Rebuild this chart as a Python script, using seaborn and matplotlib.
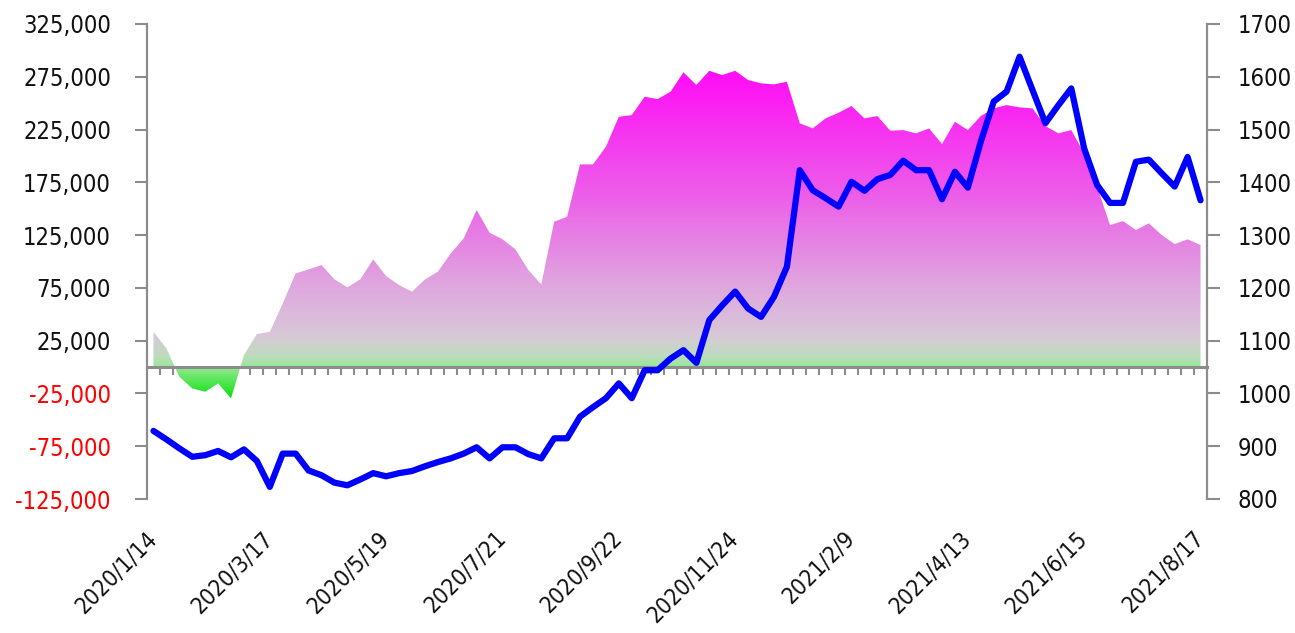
import numpy as np
import matplotlib
matplotlib.use("Agg")
import matplotlib.pyplot as plt
import seaborn as sns
from matplotlib.colors import LinearSegmentedColormap, Normalize
from matplotlib.path import Path
from matplotlib import font_manager as fm

# ---------------- data ----------------
dates = [
    "2020/1/14", "2020/1/21", "2020/1/28", "2020/2/4", "2020/2/11", "2020/2/18", "2020/2/25", "2020/3/3", "2020/3/10",
    "2020/3/17", "2020/3/24", "2020/3/31", "2020/4/7", "2020/4/14", "2020/4/21", "2020/4/28", "2020/5/5", "2020/5/12",
    "2020/5/19", "2020/5/26", "2020/6/2", "2020/6/9", "2020/6/16", "2020/6/23", "2020/6/30", "2020/7/7", "2020/7/14",
    "2020/7/21", "2020/7/28", "2020/8/4", "2020/8/11", "2020/8/18", "2020/8/25", "2020/9/1", "2020/9/8", "2020/9/15",
    "2020/9/22", "2020/9/29", "2020/10/6", "2020/10/13", "2020/10/20", "2020/10/27", "2020/11/3", "2020/11/10", "2020/11/17",
    "2020/11/24", "2020/12/1", "2020/12/8", "2020/12/15", "2020/12/22", "2021/1/5", "2021/1/12", "2021/1/19", "2021/1/26",
    "2021/2/9", "2021/2/16", "2021/2/23", "2021/3/2", "2021/3/9", "2021/3/16", "2021/3/23", "2021/3/30", "2021/4/6",
    "2021/4/13", "2021/4/20", "2021/4/27", "2021/5/4", "2021/5/11", "2021/5/18", "2021/5/25", "2021/6/1", "2021/6/8",
    "2021/6/15", "2021/6/22", "2021/6/29", "2021/7/6", "2021/7/13", "2021/7/20", "2021/7/27", "2021/8/3", "2021/8/10",
    "2021/8/17",
]

net_position = [
    33400, 17700, -9200, -20200, -23400, -15500, -29700, 11400, 31300,
    33400, 60300, 88700, 92500, 96600, 83100, 75500, 83100, 102000,
    86200, 77700, 71400, 83000, 90300, 107700, 121900, 148700, 127300,
    121000, 111500, 91900, 78300, 137700, 142400, 192000, 192000, 208700,
    237100, 238700, 256100, 253900, 260800, 279200, 267200, 280700, 276600,
    280700, 271900, 268800, 267800, 270300, 230900, 226100, 235600, 240900,
    247300, 235600, 237800, 223900, 224500, 221400, 226100, 211300, 232400,
    224500, 237800, 245100, 248200, 246000, 245100, 228300, 221400, 224500,
    202400, 170800, 134500, 138300, 129800, 136100, 125100, 116500, 121000,
    115600,
]

price = [
    929, 913, 896, 880, 883, 891, 879, 894, 872,
    823, 886, 886, 854, 845, 831, 826, 837, 849,
    843, 849, 853, 862, 870, 877, 886, 898, 877,
    898, 898, 885, 877, 915, 915, 956, 974, 991,
    1019, 991, 1044, 1044, 1066, 1082, 1058, 1139, 1167,
    1193, 1161, 1145, 1183, 1240, 1423, 1385, 1370, 1354,
    1401, 1384, 1406, 1414, 1441, 1423, 1423, 1368, 1420,
    1390, 1477, 1553, 1572, 1638, 1575, 1512, 1546, 1578,
    1464, 1395, 1361, 1361, 1439, 1443, 1417, 1392, 1448,
    1366,
]

left_ticks = [-125000, -75000, -25000, 25000, 75000, 125000, 175000, 225000, 275000, 325000]
right_ticks = [800, 900, 1000, 1100, 1200, 1300, 1400, 1500, 1600, 1700]
label_step = 9

# gradient colour stops (value, colour)
grad_stops = [
    (-30000, "#10DD10"),
    (-15000, "#50E650"),
    (0, "#98E898"),
    (10000, "#BEDCBE"),
    (30000, "#D8C8D8"),
    (80000, "#E0A4DF"),
    (160000, "#EC60E9"),
    (275000, "#FF10F6"),
]

# ---------------- style ----------------
sns.set_theme(style="white")
cond_file = fm.findfont(fm.FontProperties(family="DejaVu Sans", stretch="condensed"))
if "Condensed" in cond_file:
    plt.rcParams["font.stretch"] = "condensed"
    fsize = 17
    xsize = 16.5
else:
    fsize = 15.5
    xsize = 15
plt.rcParams["font.family"] = ["DejaVu Sans"]

gray = "#8C8C8C"
n = len(dates)
x = np.arange(n)

fig = plt.figure(figsize=(12.95, 6.33), dpi=100)
ax = fig.add_axes([147 / 1295, 1 - 499 / 633, 1060 / 1295, 475 / 633])

# gradient-filled area
vmin, vmax = grad_stops[0][0], grad_stops[-1][0]
cmap = LinearSegmentedColormap.from_list(
    "net", [((v - vmin) / (vmax - vmin), c) for v, c in grad_stops]
)
grad = np.linspace(left_ticks[0], left_ticks[-1], 900).reshape(-1, 1)
im = ax.imshow(
    grad, extent=[-0.5, n - 0.5, left_ticks[0], left_ticks[-1]], origin="lower",
    aspect="auto", cmap=cmap, norm=Normalize(vmin, vmax), zorder=1, interpolation="bilinear",
)
poly = ax.fill_between(x, net_position, 0, facecolor="none", edgecolor="none")
clip = Path.make_compound_path(*poly.get_paths())
im.set_clip_path(clip, ax.transData)

ax.set_xlim(-0.5, n - 0.5)
ax.set_ylim(left_ticks[0], left_ticks[-1])

for s in ["top", "right"]:
    ax.spines[s].set_visible(False)
ax.spines["left"].set_color(gray)
ax.spines["left"].set_linewidth(1.6)
ax.spines["bottom"].set_position(("data", 0))
ax.spines["bottom"].set_color(gray)
ax.spines["bottom"].set_linewidth(2.2)
ax.spines["bottom"].set_zorder(4)

ax.set_xticks([])
ax.set_xticks(x[:-1] + 0.5, minor=True)
ax.tick_params(axis="x", which="minor", bottom=True, length=6, width=1.5, color=gray, direction="out")

ax.set_yticks(left_ticks)
ax.set_yticklabels([f"{v:,}" for v in left_ticks])
for v, lab in zip(left_ticks, ax.get_yticklabels()):
    lab.set_color("#FF0000" if v < 0 else "#111111")
ax.tick_params(axis="y", length=9, width=1.5, color=gray, pad=17, labelsize=fsize, direction="out", left=True)

# price line on right axis
ax2 = ax.twinx()
sns.lineplot(x=x, y=price, ax=ax2, color="#0000FF", linewidth=4.5, zorder=5)
ax2.lines[-1].set_solid_joinstyle("round")
ax2.set_ylim(right_ticks[0], right_ticks[-1])
ax2.set_xlim(-0.5, n - 0.5)
ax2.set_yticks(right_ticks)
ax2.set_yticklabels([str(v) for v in right_ticks], color="#111111")
ax2.set_ylabel("")
ax2.set_xlabel("")
for s in ["top", "left", "bottom"]:
    ax2.spines[s].set_visible(False)
ax2.spines["right"].set_color(gray)
ax2.spines["right"].set_linewidth(1.6)
ax2.tick_params(axis="y", length=9, width=1.5, color=gray, pad=13, labelsize=fsize, direction="out", right=True)

# date labels at the bottom
secax = ax.secondary_xaxis("bottom")
secax.set_xticks(x[::label_step])
secax.set_xticklabels(dates[::label_step])
secax.spines["bottom"].set_visible(False)
secax.tick_params(axis="x", length=0, pad=26, labelsize=xsize, labelcolor="#111111")
for lab in secax.get_xticklabels():
    lab.set_rotation(45)
    lab.set_ha("right")
    lab.set_va("center")
    lab.set_rotation_mode("anchor")

fig.savefig("out.png", dpi=100, facecolor="white")
